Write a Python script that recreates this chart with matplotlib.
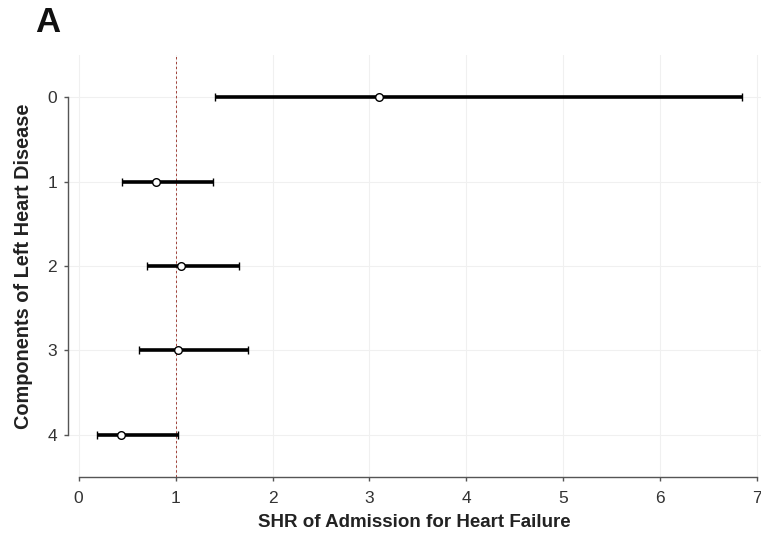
import matplotlib
matplotlib.use("Agg")
import matplotlib.pyplot as plt

plt.rcParams["font.family"] = ["Liberation Sans", "DejaVu Sans"]

components = [0, 1, 2, 3, 4]
shr = [3.10, 0.80, 1.06, 1.03, 0.44]
ci_low = [1.41, 0.45, 0.70, 0.62, 0.19]
ci_high = [6.84, 1.39, 1.65, 1.75, 1.02]

fig = plt.figure(figsize=(7.61, 5.33), dpi=100)
ax = fig.add_axes([68 / 761, 1 - 477 / 533, 1 - 68 / 761, (477 - 55) / 533])

# grid
for x in range(0, 8):
    ax.axvline(x, color="#f0f0f0", lw=0.8, zorder=0)
for y in components:
    ax.axhline(y, color="#f0f0f0", lw=0.8, zorder=0)

ax.axvline(1, color="#a04038", lw=0.7, ls=(0, (2.5, 2.5)), zorder=1)

err_lo = [s - l for s, l in zip(shr, ci_low)]
err_hi = [h - s for s, h in zip(shr, ci_high)]
ax.errorbar(shr, components, xerr=[err_lo, err_hi], fmt="o", color="black",
            ecolor="black", elinewidth=2.6, capsize=3, capthick=2.6,
            markerfacecolor="white", markeredgecolor="black", markersize=5.5,
            markeredgewidth=1.0, zorder=3)

ax.set_xlim(-0.11, 7.04)
ax.set_ylim(4.5, -0.5)
ax.set_xticks(range(0, 8))
ax.set_yticks(components)

for s in ["top", "right"]:
    ax.spines[s].set_visible(False)
ax.spines["bottom"].set_bounds(0, 7)
ax.spines["left"].set_bounds(0, 4)
for s in ["bottom", "left"]:
    ax.spines[s].set_color("#555555")
    ax.spines[s].set_linewidth(1.0)
ax.tick_params(axis="both", colors="#555555", labelcolor="#333333",
               labelsize=12.5, length=3, width=1.0)
ax.tick_params(axis="x", pad=7)
ax.tick_params(axis="y", pad=5)

ax.set_xlabel("SHR of Admission for Heart Failure", fontsize=13.5,
              fontweight="bold", color="#222222", labelpad=6)
ax.set_ylabel("Components of Left Heart Disease", fontsize=14.3,
              fontweight="bold", color="#222222", labelpad=10)

fig.text(35 / 761, 1 - 32 / 533, "A", fontsize=25, fontweight="bold",
         color="#111111", ha="left", va="baseline")

fig.savefig("out.png", dpi=100)
